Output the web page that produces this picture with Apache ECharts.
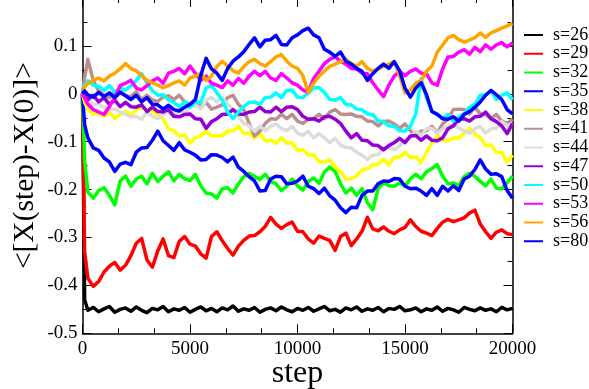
<!DOCTYPE html>
<html>
<head>
<meta charset="utf-8">
<script src="https://cdn.jsdelivr.net/npm/echarts@6/dist/echarts.min.js"></script>
<style>
  html, body { margin: 0; padding: 0; background: #ffffff; }
  #chart { width: 589px; height: 389px; }
</style>
</head>
<body>
<div id="chart"></div>
<script>
// Sampled simulation steps (one row = 2000 steps)
const steps = [0, 100,
  250, 500, 750, 1000, 1250, 1500, 1750, 2000,
  2250, 2500, 2750, 3000, 3250, 3500, 3750, 4000,
  4250, 4500, 4750, 5000, 5250, 5500, 5750, 6000,
  6250, 6500, 6750, 7000, 7250, 7500, 7750, 8000,
  8250, 8500, 8750, 9000, 9250, 9500, 9750, 10000,
  10250, 10500, 10750, 11000, 11250, 11500, 11750, 12000,
  12250, 12500, 12750, 13000, 13250, 13500, 13750, 14000,
  14250, 14500, 14750, 15000, 15250, 15500, 15750, 16000,
  16250, 16500, 16750, 17000, 17250, 17500, 17750, 18000,
  18250, 18500, 18750, 19000, 19250, 19500, 19750, 20000
];

const s26 = [0, -0.43,
  -0.452, -0.446, -0.455, -0.449, -0.444, -0.456, -0.450, -0.447,
  -0.454, -0.445, -0.452, -0.457, -0.448, -0.451, -0.444, -0.455,
  -0.449, -0.452, -0.446, -0.456, -0.450, -0.445, -0.453, -0.448,
  -0.455, -0.447, -0.451, -0.443, -0.454, -0.449, -0.452, -0.446,
  -0.456, -0.450, -0.447, -0.453, -0.445, -0.451, -0.455, -0.448,
  -0.452, -0.446, -0.454, -0.449, -0.444, -0.453, -0.450, -0.456,
  -0.447, -0.451, -0.445, -0.454, -0.449, -0.452, -0.446, -0.455,
  -0.448, -0.450, -0.444, -0.453, -0.451, -0.447, -0.455, -0.449,
  -0.452, -0.445, -0.454, -0.448, -0.451, -0.456, -0.446, -0.450,
  -0.453, -0.447, -0.452, -0.449, -0.455, -0.446, -0.451, -0.448
];

const s29 = [0, -0.33,
  -0.385, -0.402, -0.392, -0.372, -0.360, -0.352, -0.368, -0.358,
  -0.338, -0.312, -0.302, -0.347, -0.362, -0.328, -0.303, -0.338,
  -0.342, -0.308, -0.298, -0.314, -0.318, -0.334, -0.343, -0.298,
  -0.288, -0.307, -0.323, -0.337, -0.318, -0.306, -0.297, -0.296,
  -0.288, -0.277, -0.258, -0.272, -0.281, -0.273, -0.268, -0.287,
  -0.288, -0.303, -0.312, -0.297, -0.302, -0.306, -0.327, -0.298,
  -0.291, -0.317, -0.303, -0.287, -0.258, -0.282, -0.286, -0.278,
  -0.287, -0.292, -0.284, -0.279, -0.263, -0.277, -0.287, -0.291,
  -0.296, -0.281, -0.268, -0.262, -0.267, -0.263, -0.259, -0.249,
  -0.243, -0.272, -0.288, -0.302, -0.289, -0.284, -0.292, -0.294
];

const s32 = [0, -0.14,
  -0.205, -0.218, -0.202, -0.196, -0.212, -0.232, -0.182, -0.172,
  -0.193, -0.178, -0.172, -0.188, -0.166, -0.183, -0.172, -0.163,
  -0.182, -0.168, -0.177, -0.181, -0.168, -0.192, -0.207, -0.209,
  -0.218, -0.198, -0.196, -0.207, -0.188, -0.173, -0.166, -0.172,
  -0.179, -0.168, -0.183, -0.188, -0.202, -0.193, -0.178, -0.192,
  -0.201, -0.183, -0.176, -0.187, -0.163, -0.153, -0.162, -0.188,
  -0.207, -0.197, -0.212, -0.198, -0.227, -0.242, -0.198, -0.186,
  -0.192, -0.193, -0.186, -0.192, -0.178, -0.168, -0.177, -0.163,
  -0.156, -0.148, -0.172, -0.188, -0.186, -0.192, -0.173, -0.166,
  -0.172, -0.183, -0.192, -0.178, -0.197, -0.198, -0.186, -0.172
];

const s35 = [0, -0.065,
  -0.092, -0.113, -0.118, -0.134, -0.142, -0.162, -0.147, -0.143,
  -0.148, -0.122, -0.113, -0.112, -0.097, -0.078, -0.098, -0.108,
  -0.118, -0.102, -0.117, -0.122, -0.128, -0.138, -0.137, -0.127,
  -0.128, -0.133, -0.142, -0.132, -0.153, -0.162, -0.173, -0.182,
  -0.203, -0.202, -0.178, -0.172, -0.173, -0.188, -0.187, -0.182,
  -0.172, -0.193, -0.198, -0.208, -0.197, -0.213, -0.222, -0.238,
  -0.248, -0.237, -0.238, -0.212, -0.203, -0.203, -0.188, -0.182,
  -0.183, -0.177, -0.178, -0.193, -0.198, -0.197, -0.203, -0.212,
  -0.198, -0.212, -0.193, -0.203, -0.192, -0.202, -0.178, -0.172,
  -0.158, -0.138, -0.157, -0.168, -0.167, -0.173, -0.202, -0.218
];

const s38 = [0, -0.018,
  -0.032, -0.043, -0.041, -0.047, -0.038, -0.052, -0.043, -0.037,
  -0.044, -0.033, -0.028, -0.034, -0.036, -0.044, -0.052, -0.073,
  -0.077, -0.088, -0.086, -0.103, -0.092, -0.088, -0.077, -0.088,
  -0.087, -0.088, -0.077, -0.078, -0.068, -0.083, -0.082, -0.093,
  -0.082, -0.098, -0.097, -0.103, -0.092, -0.103, -0.102, -0.118,
  -0.117, -0.128, -0.127, -0.142, -0.143, -0.138, -0.153, -0.162,
  -0.178, -0.177, -0.172, -0.158, -0.157, -0.148, -0.147, -0.137,
  -0.148, -0.132, -0.133, -0.122, -0.133, -0.132, -0.143, -0.122,
  -0.103, -0.088, -0.097, -0.098, -0.092, -0.093, -0.082, -0.072,
  -0.083, -0.092, -0.108, -0.107, -0.122, -0.123, -0.142, -0.128
];

const s41 = [0, 0.035,
  0.072, 0.028, 0.006, -0.003, -0.008, 0.003, 0.006, -0.004,
  -0.006, 0.004, -0.012, -0.003, -0.013, -0.016, -0.007, -0.004,
  -0.012, -0.003, -0.017, -0.022, -0.018, -0.027, -0.018, -0.032,
  -0.028, -0.023, -0.008, -0.003, -0.022, -0.033, -0.062, -0.088,
  -0.078, -0.062, -0.052, -0.053, -0.043, -0.052, -0.043, -0.057,
  -0.062, -0.053, -0.052, -0.043, -0.052, -0.038, -0.033, -0.042,
  -0.043, -0.042, -0.047, -0.048, -0.057, -0.058, -0.067, -0.058,
  -0.057, -0.063, -0.072, -0.063, -0.077, -0.087, -0.078, -0.077,
  -0.068, -0.082, -0.063, -0.052, -0.033, -0.032, -0.033, -0.042,
  -0.028, -0.042, -0.043, -0.052, -0.043, -0.057, -0.062, -0.053
];

const s44 = [0, -0.008,
  -0.013, -0.023, -0.022, -0.028, -0.033, -0.032, -0.038, -0.043,
  -0.048, -0.047, -0.053, -0.038, -0.047, -0.052, -0.043, -0.038,
  -0.047, -0.033, -0.042, -0.028, -0.023, -0.032, -0.013, -0.008,
  -0.017, -0.008, -0.022, -0.032, -0.047, -0.062, -0.067, -0.078,
  -0.068, -0.077, -0.068, -0.063, -0.072, -0.077, -0.068, -0.082,
  -0.087, -0.078, -0.092, -0.083, -0.092, -0.102, -0.093, -0.107,
  -0.112, -0.113, -0.122, -0.128, -0.137, -0.128, -0.127, -0.113,
  -0.112, -0.117, -0.108, -0.098, -0.092, -0.078, -0.087, -0.073,
  -0.072, -0.082, -0.073, -0.068, -0.063, -0.072, -0.077, -0.082,
  -0.073, -0.068, -0.082, -0.073, -0.072, -0.058, -0.067, -0.062
];

const s47 = [0, -0.004,
  -0.012, -0.003, -0.017, -0.008, -0.022, -0.013, -0.027, -0.018,
  -0.027, -0.028, -0.023, -0.037, -0.028, -0.037, -0.038, -0.033,
  -0.047, -0.048, -0.043, -0.042, -0.052, -0.053, -0.072, -0.058,
  -0.052, -0.043, -0.042, -0.033, -0.042, -0.043, -0.038, -0.037,
  -0.028, -0.037, -0.038, -0.028, -0.037, -0.028, -0.027, -0.033,
  -0.047, -0.053, -0.052, -0.057, -0.048, -0.047, -0.053, -0.062,
  -0.078, -0.092, -0.083, -0.097, -0.098, -0.107, -0.108, -0.117,
  -0.108, -0.102, -0.093, -0.102, -0.088, -0.087, -0.097, -0.088,
  -0.097, -0.098, -0.092, -0.073, -0.067, -0.053, -0.052, -0.057,
  -0.048, -0.047, -0.038, -0.052, -0.058, -0.067, -0.083, -0.062
];

const s50 = [0.008, 0.018,
  0.027, 0.018, 0.016, 0.007, 0.017, 0.003, 0.012, 0.008,
  0.017, 0.028, 0.042, 0.022, 0.007, -0.003, -0.002, -0.013,
  -0.018, -0.027, -0.017, -0.028, -0.017, -0.018, 0.012, 0.018,
  0.002, -0.013, -0.038, -0.052, -0.038, -0.027, -0.018, -0.017,
  -0.022, -0.008, -0.007, 0.002, -0.008, 0.007, 0.008, -0.007,
  -0.008, 0.002, 0.012, 0.013, 0.003, -0.012, -0.013, -0.008,
  -0.022, -0.023, -0.032, -0.033, -0.042, -0.043, -0.057, -0.058,
  -0.067, -0.068, -0.077, -0.078, -0.068, -0.042, 0.032, -0.008,
  -0.037, -0.043, -0.052, -0.043, -0.057, -0.048, -0.042, -0.028,
  -0.022, -0.003, -0.002, 0.007, -0.012, -0.003, 0.002, -0.012
];

const s53 = [0, -0.008,
  -0.022, -0.033, -0.038, -0.043, -0.027, -0.008, 0.017, 0.022,
  0.028, 0.012, 0.008, 0.017, 0.027, 0.033, 0.022, 0.043,
  0.047, 0.053, 0.042, 0.058, 0.043, 0.028, 0.037, 0.022,
  0.018, 0.013, 0.027, 0.018, 0.032, 0.022, 0.037, 0.047,
  0.038, 0.047, 0.033, 0.028, 0.042, 0.033, 0.023, 0.018,
  0.008, 0.003, 0.032, 0.047, 0.063, 0.072, 0.077, 0.068,
  0.062, 0.053, 0.052, 0.043, 0.042, 0.023, 0.008, -0.006,
  0.018, 0.037, 0.047, 0.038, 0.047, 0.052, 0.043, 0.042,
  0.023, 0.018, 0.052, 0.077, 0.078, 0.087, 0.092, 0.083,
  0.097, 0.088, 0.102, 0.093, 0.102, 0.107, 0.098, 0.106
];

const s56 = [0.008, 0.014,
  0.022, 0.028, 0.033, 0.027, 0.037, 0.043, 0.052, 0.063,
  0.053, 0.048, 0.038, 0.028, 0.023, 0.018, 0.013, 0.017,
  0.023, 0.027, 0.018, 0.033, 0.037, 0.043, 0.028, 0.037,
  0.057, 0.068, 0.058, 0.048, 0.043, 0.057, 0.067, 0.072,
  0.063, 0.058, 0.067, 0.077, 0.082, 0.068, 0.058, 0.053,
  0.038, 0.003, 0.022, 0.037, 0.047, 0.057, 0.062, 0.067,
  0.072, 0.063, 0.058, 0.067, 0.053, 0.048, 0.052, 0.057,
  0.062, 0.067, 0.038, 0.002, 0.008, 0.022, 0.028, 0.047,
  0.058, 0.087, 0.102, 0.117, 0.122, 0.113, 0.108, 0.112,
  0.117, 0.127, 0.118, 0.127, 0.132, 0.137, 0.142, 0.147
];

const s80 = [0, 0.006,
  -0.002, -0.007, 0.003, -0.006, 0.002, -0.008, 0.003, -0.004,
  -0.012, -0.003, -0.017, -0.008, -0.022, -0.023, -0.032, -0.024,
  -0.033, -0.036, -0.028, -0.022, -0.012, 0.038, 0.074, 0.052,
  0.043, 0.028, 0.053, 0.068, 0.077, 0.088, 0.103, 0.117,
  0.098, 0.112, 0.113, 0.122, 0.103, 0.102, 0.117, 0.123,
  0.132, 0.137, 0.123, 0.117, 0.093, 0.087, 0.078, 0.087,
  0.068, 0.062, 0.053, 0.047, 0.028, 0.042, 0.053, 0.062,
  0.053, 0.067, 0.048, 0.012, -0.007, 0.012, 0.023, -0.002,
  -0.037, -0.043, -0.052, -0.053, -0.048, -0.057, -0.043, -0.037,
  -0.028, -0.017, -0.003, 0.007, -0.002, -0.012, -0.033, -0.042
];

const seriesNames = ['s=26', 's=29', 's=32', 's=35', 's=38', 's=41',
                     's=44', 's=47', 's=50', 's=53', 's=56', 's=80'];
const seriesValues = [s26, s29, s32, s35, s38, s41, s44, s47, s50, s53, s56, s80];
const seriesColors = ['#000000', '#ff0000', '#00ff00', '#0000ff', '#ffff00', '#bc8f8f',
                      '#dcdcdc', '#9400d3', '#00ffff', '#ff00ff', '#ffa500', '#0000ff'];

const FONT = 'Liberation Serif';

const chart = echarts.init(document.getElementById('chart'), null, { renderer: 'canvas' });

const lineSeries = seriesNames.map((name, k) => ({
  name: name,
  type: 'line',
  xAxisIndex: 0,
  yAxisIndex: 0,
  data: steps.map((st, i) => [st, seriesValues[k][i]]),
  showSymbol: false,
  symbol: 'none',
  color: seriesColors[k],
  lineStyle: { width: 3.5, color: seriesColors[k], join: 'round' },
  animation: false
}));

const frameLine = { show: true, onZero: false, lineStyle: { color: '#000', width: 1.5 } };
const tickStyle = { color: '#000', width: 1 };

chart.setOption({
  backgroundColor: '#ffffff',
  animation: false,
  grid: { left: 82.5, right: 76.5, top: -2, bottom: 55.7, containLabel: false, outerBoundsMode: 'none' },
  legend: {
    orient: 'vertical',
    left: 519,
    top: 20.5,
    itemWidth: 24,
    itemHeight: 2,
    itemGap: 0,
    // short colour bar followed by a small blank gap before the label
    icon: 'path://M0,0 L19,0 L19,2 L0,2 Z M24,0 L24,2',
    data: seriesNames,
    textStyle: { fontFamily: FONT, fontSize: 18, color: '#000', lineHeight: 18.75 },
    itemStyle: { borderWidth: 0 }
  },
  xAxis: [{
    type: 'value', min: 0, max: 20000, interval: 5000,
    position: 'bottom',
    name: 'step', nameLocation: 'middle', nameGap: 24, nameMoveOverlap: false,
    nameTextStyle: { fontFamily: FONT, fontSize: 32, color: '#000' },
    axisLine: frameLine,
    axisTick: { show: true, inside: true, length: 9, lineStyle: tickStyle },
    minorTick: { show: true, splitNumber: 3, length: 5, lineStyle: tickStyle },
    axisLabel: { fontFamily: FONT, fontSize: 19, color: '#000', margin: 6, formatter: v => String(v) },
    splitLine: { show: false }
  }, {
    type: 'value', min: 0, max: 20000, interval: 5000,
    position: 'top',
    axisLine: frameLine,
    axisTick: { show: true, inside: true, length: 9, lineStyle: tickStyle },
    minorTick: { show: true, splitNumber: 3, length: 5, lineStyle: tickStyle },
    axisLabel: { show: false },
    splitLine: { show: false }
  }],
  yAxis: [{
    type: 'value', min: -0.5, max: 0.2, interval: 0.1,
    position: 'left',
    name: '<[X(step)-X(0)]>', nameLocation: 'middle', nameGap: 42, nameMoveOverlap: false,
    nameTextStyle: { fontFamily: FONT, fontSize: 29.5, color: '#000' },
    axisLine: frameLine,
    axisTick: { show: true, inside: true, length: 9, lineStyle: tickStyle },
    minorTick: { show: true, splitNumber: 2, length: 5, lineStyle: tickStyle },
    axisLabel: {
      fontFamily: FONT, fontSize: 19, color: '#000', margin: 5,
      formatter: v => (v > 0.15 ? '' : String(Math.round(v * 10) / 10))
    },
    splitLine: { show: false }
  }, {
    type: 'value', min: -0.5, max: 0.2, interval: 0.1,
    position: 'right',
    axisLine: frameLine,
    axisTick: { show: true, inside: true, length: 9, lineStyle: tickStyle },
    minorTick: { show: true, splitNumber: 2, length: 5, lineStyle: tickStyle },
    axisLabel: { show: false },
    splitLine: { show: false }
  }],
  series: lineSeries
});
</script>
</body>
</html>
